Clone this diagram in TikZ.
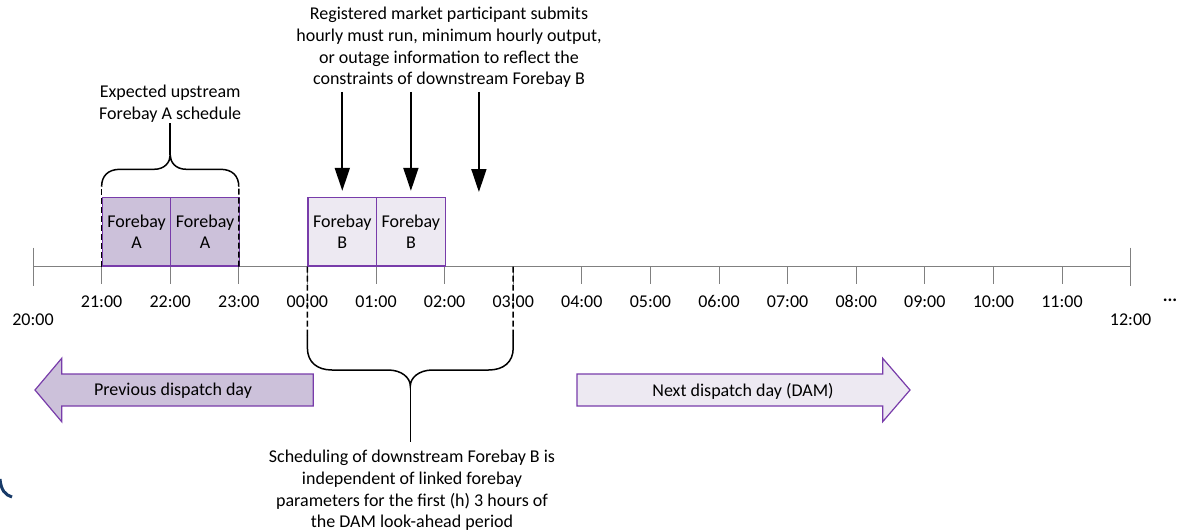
\documentclass[tikz,border=0pt]{standalone}
\usepackage{fontspec}
\setmainfont{Carlito}
\usetikzlibrary{arrows.meta}
\definecolor{fbpurple}{RGB}{120,60,170}
\definecolor{fbdark}{RGB}{204,193,218}
\definecolor{fblight}{RGB}{237,233,242}
\definecolor{axisgray}{RGB}{128,128,128}
\definecolor{edgeblue}{RGB}{24,58,104}

\begin{document}
\begin{tikzpicture}[x=1pt,y=-1pt,
  every node/.style={font=\fontsize{18}{21.7}\selectfont, inner sep=0pt, align=center},
  slot/.style={draw=fbpurple, line width=1.2pt, minimum width=68.6pt, minimum height=68.5pt, anchor=south west},
  marker/.style={black, line width=1.5pt, dash pattern=on 6pt off 3pt},
  brace/.style={black, line width=1.5pt},
  push/.style={-{Triangle[width=15pt,length=23pt]}, line width=1.8pt},
  dayarrow/.style={draw=fbpurple, line width=1.2pt}]
\useasboundingbox (0,0) rectangle (1187,531);

% Timeline
\foreach \h in {0,...,16}
  \coordinate (t\h) at ({33+68.6*\h},266.5);
\draw[axisgray, line width=1.5pt] (t0) -- (t16);
\draw[axisgray, line width=1pt] ([yshift=19pt]t0) -- ([yshift=-19pt]t0);
\draw[axisgray, line width=1pt] ([yshift=19pt]t16) -- ([yshift=-19pt]t16);
\foreach \h in {1,...,15}
  \draw[axisgray, line width=1pt] (t\h) -- ++(0,17);

% Hour labels
\foreach \h/\lab in {1/21:00,2/22:00,3/23:00,4/00:00,5/01:00,6/02:00,7/03:00,8/04:00,
                     9/05:00,10/06:00,11/07:00,12/08:00,13/09:00,14/10:00,15/11:00}
  \node (l\h) at ({33+68.6*\h},301.7) {\lab};
\node (l0) at (33,320) {20:00};
\node (l16) at (1130.6,320) {12:00};
\node (more) at (1170,300) {\textbf{...}};

% Forebay slots
\node[slot, fill=fbdark] (fa1) at (t1) {Forebay\\A};
\node[slot, fill=fbdark] (fa2) at (t2) {Forebay\\A};
\node[slot, fill=fblight] (fb1) at (t4) {Forebay\\B};
\node[slot, fill=fblight] (fb2) at (t5) {Forebay\\B};

% Upstream schedule brace
\coordinate (aleft) at (101.6,186.7);
\coordinate (aright) at (238.8,186.7);
\draw[marker] (t1) -- (aleft);
\draw[marker] (t3) -- (aright);
\draw[brace] (aleft) .. controls (101.6,176) and (108,169.3) .. (120,169.3) -- (154,169.3)
  .. controls (165,169.3) and (170.2,162) .. (170.2,155)
  .. controls (170.2,162) and (175.4,169.3) .. (186.4,169.3) -- (220.4,169.3)
  .. controls (232.4,169.3) and (238.8,176) .. (aright);
\node (expA) at (170.2,104) {Expected upstream\\Forebay A schedule};
\draw[brace] (170.2,155) -- (expA.south);

% Submissions
\node (submit) at (449,47.5) {Registered market participant submits\\hourly must run, minimum hourly output,\\or outage information to reflect the\\constraints of downstream Forebay B};
\coordinate (gap) at ({33+68.6*6.5},198);
\draw[push] ([yshift=-4pt]submit.south -| fb1.north) -- ([yshift=6pt]fb1.north);
\draw[push] ([yshift=-4pt]submit.south -| fb2.north) -- ([yshift=6pt]fb2.north);
\draw[push] ([yshift=-4pt]submit.south -| gap) -- ([yshift=6pt]gap);

% Look-ahead brace
\coordinate (bleft) at (307.4,335);
\coordinate (bright) at (513.2,335);
\draw[marker] (t4) -- (bleft);
\draw[marker] (t7) -- (bright);
\draw[brace] (bleft) -- (307.4,348) .. controls (307.4,362) and (317,370) .. (332,370) -- (388,370)
  .. controls (402,370) and (410.3,378) .. (410.3,386)
  .. controls (410.3,378) and (418.6,370) .. (432.6,370) -- (488.6,370)
  .. controls (503.6,370) and (513.2,362) .. (513.2,348) -- (bright);
\node (indep) at (412,490.5) {Scheduling of downstream Forebay B is\\independent of linked forebay\\parameters for the first (h) 3 hours of\\the DAM look-ahead period};
\draw[brace] (410.3,386) -- ([yshift=8pt]indep.north -| 410.3,0);

% Dispatch days
\draw[dayarrow, fill=fbdark] (313.3,374) -- (61.7,374) -- (61.7,358.3) -- (35,390)
  -- (61.7,421.7) -- (61.7,406) -- (313.3,406) -- cycle;
\node (prevday) at (173,391) {Previous dispatch day};
\draw[dayarrow, fill=fblight] (577,374) -- (882.7,374) -- (882.7,358.3) -- (910,390)
  -- (882.7,421.7) -- (882.7,406) -- (577,406) -- cycle;
\node (nextday) at (743,391) {Next dispatch day (DAM)};

% Edge mark
\draw[edgeblue, line width=3pt] (0,479) .. controls (1,490) and (5,495) .. (12,497);
\end{tikzpicture}
\end{document}
